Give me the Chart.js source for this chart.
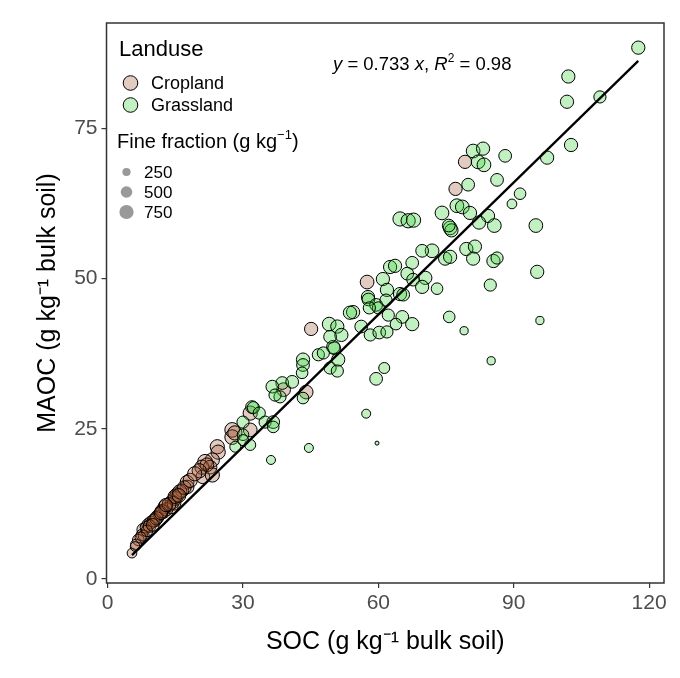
<!DOCTYPE html>
<html>
<head>
<meta charset="utf-8">
<script src="https://cdn.jsdelivr.net/npm/chart.js@4.4.1/dist/chart.umd.min.js"></script>
<style>
  html, body { margin: 0; padding: 0; background: #fff; }
  #wrap { width: 680px; height: 678px; }
</style>
</head>
<body>
<div id="wrap"><canvas id="socChart"></canvas></div>
<script>
// --- data ---
const grassSOC = [
  117.6, 102.1, 101.8, 109.1, 102.7, 97.4, 88.1, 81.0, 83.2, 82.1,
  83.4, 86.3, 79.9, 91.4, 89.6, 77.4, 78.6, 74.1, 80.3, 84.3,
  94.9, 64.8, 66.6, 67.8, 75.9, 76.2, 75.6, 82.3, 85.7, 95.2,
  79.5, 81.4, 81.0, 85.5, 86.3, 84.8, 74.8, 75.9, 71.9, 69.7,
  67.5, 62.6, 63.7, 66.4, 70.4, 67.7, 69.7, 73.0, 61.0, 61.9,
  64.8, 65.5, 57.7, 57.8, 59.5, 60.0, 58.0, 61.7, 54.4, 53.7,
  62.2, 65.3, 67.5, 63.9, 75.7, 79.0, 85.0, 56.2, 58.2, 60.2,
  61.9, 49.1, 50.9, 51.8, 50.0, 50.2, 46.7, 47.8, 51.1, 49.3,
  50.9, 43.3, 43.3, 43.1, 61.3, 59.5, 57.3, 43.3, 44.6, 36.2,
  59.7, 95.8, 38.7, 40.9, 36.5, 38.2, 37.1, 32.0, 32.3, 33.6,
  34.9, 36.7, 36.7, 30.0, 30.0, 30.0, 31.6, 28.3, 49.3
];
const grassMAOC = [
  88.4, 83.6, 79.4, 80.2, 72.2, 70.1, 70.4, 71.2, 71.6, 69.4,
  68.9, 66.4, 65.6, 64.1, 62.4, 62.1, 61.9, 60.9, 60.9, 60.4,
  58.8, 59.9, 59.6, 59.7, 58.4, 58.0, 58.8, 59.3, 58.8, 51.1,
  54.9, 55.3, 53.3, 52.9, 53.4, 48.9, 53.3, 53.6, 54.6, 54.6,
  52.6, 51.9, 52.1, 50.8, 50.1, 49.8, 48.6, 48.3, 49.9, 48.1,
  47.4, 47.3, 46.9, 46.5, 45.6, 45.1, 45.1, 46.4, 44.4, 44.3,
  43.9, 43.6, 42.4, 42.4, 43.6, 41.3, 36.3, 42.0, 40.6, 41.0,
  41.1, 42.4, 42.0, 40.6, 38.6, 38.4, 37.3, 37.6, 36.5, 35.1,
  34.6, 36.5, 35.6, 34.3, 35.1, 33.3, 27.5, 30.1, 21.8, 19.8,
  22.6, 43.0, 32.6, 32.8, 32.0, 30.3, 30.6, 28.6, 28.5, 27.6,
  26.1, 26.1, 25.3, 26.1, 24.0, 23.1, 22.3, 22.0, 40.3
];
const grassFine = [
  650, 650, 650, 550, 650, 650, 600, 700, 650, 700,
  700, 600, 600, 500, 350, 700, 700, 700, 650, 650,
  700, 750, 750, 750, 700, 650, 600, 650, 700, 650,
  650, 650, 650, 650, 550, 550, 650, 650, 700, 600,
  600, 650, 650, 600, 650, 600, 650, 500, 650, 650,
  650, 600, 650, 600, 600, 550, 550, 550, 650, 650,
  550, 600, 650, 500, 500, 250, 250, 600, 550, 600,
  550, 700, 650, 650, 650, 600, 550, 550, 650, 550,
  550, 650, 600, 500, 450, 600, 300, 500, 300, 300,
  60, 250, 600, 600, 600, 550, 550, 600, 550, 550,
  550, 600, 500, 550, 500, 450, 450, 450, 600
];

const cropSOC = [
  79.2, 77.1, 57.5, 45.1, 44.0, 39.0, 31.6, 27.6, 27.6, 31.6,
  24.3, 24.5, 23.2, 21.6, 20.9, 22.7, 22.0, 21.1, 23.2, 17.6,
  17.6, 15.4, 14.3, 14.1, 12.7, 12.3, 11.0, 10.5, 9.0, 7.9,
  7.6, 6.8, 6.3, 5.4, 13.0, 11.6, 9.6, 8.5, 15.0, 16.5,
  20.3, 8.0, 6.1, 10.2, 14.7, 12.0, 28.2, 9.3, 10.8, 11.8,
  13.6, 14.9, 16.0, 17.0, 18.3, 19.3, 8.7, 7.3, 12.9, 15.8,
  10.0
];
const cropMAOC = [
  69.4, 64.9, 49.4, 41.6, 31.1, 31.5, 27.6, 24.8, 23.6, 24.8,
  22.0, 21.1, 19.8, 19.5, 18.6, 18.6, 19.0, 17.0, 17.3, 16.1,
  15.3, 14.0, 12.8, 12.0, 12.0, 11.2, 10.3, 9.8, 9.0, 8.2,
  7.3, 6.5, 5.7, 4.3, 11.6, 10.8, 9.4, 8.6, 13.4, 14.7,
  18.0, 7.2, 5.4, 9.7, 12.6, 11.3, 24.3, 8.8, 10.1, 11.0,
  12.4, 13.7, 14.5, 15.2, 16.4, 17.5, 8.0, 6.9, 12.3, 13.9,
  9.0
];
const cropFine = [
  650, 650, 700, 650, 700, 700, 750, 800, 800, 700,
  750, 750, 750, 800, 750, 700, 700, 700, 750, 700,
  700, 750, 750, 700, 700, 700, 650, 650, 600, 600,
  500, 500, 450, 350, 650, 600, 600, 500, 700, 650,
  750, 450, 350, 600, 700, 650, 750, 600, 650, 650,
  700, 700, 750, 700, 750, 750, 500, 450, 650, 700,
  600
];

const fitSlope = 0.733;
const fitR2 = 0.98;
const xTicks = [0, 30, 60, 90, 120];
const yTicks = [0, 25, 50, 75];
const sizeBreaks = [250, 500, 750];
const landuseNames = ['Cropland', 'Grassland'];

// --- styling ---
const FONT = '"Liberation Sans", Arial, sans-serif';
const cropFill = 'rgba(160, 82, 45, 0.3)';
const grassFill = 'rgba(50, 205, 50, 0.3)';
const sizeToRadius = ff => 0.26 * Math.sqrt(ff);

function toBubbles(xs, ys, fs) {
  return xs.map((x, i) => ({ x: x, y: ys[i], r: sizeToRadius(fs[i]) }));
}

const allSOC = cropSOC.concat(grassSOC);
const fitFrom = Math.min.apply(null, allSOC);
const fitTo = Math.max.apply(null, allSOC);

// draws text pieces one after another (italics, superscripts)
function drawRuns(ctx, runs, x, y) {
  runs.forEach(r => {
    ctx.font = (r.italic ? 'italic ' : '') + r.size + 'px ' + FONT;
    ctx.fillText(r.text, x, y + (r.dy || 0));
    x += ctx.measureText(r.text).width;
  });
}

const plotDecor = {
  id: 'plotDecor',
  afterDraw(chart) {
    const { ctx, chartArea: a } = chart;
    ctx.save();
    // panel border
    ctx.strokeStyle = '#333';
    ctx.lineWidth = 1.5;
    ctx.strokeRect(a.left, a.top, a.right - a.left, a.bottom - a.top);

    ctx.fillStyle = '#000';
    ctx.textAlign = 'left';

    // equation
    ctx.textBaseline = 'alphabetic';
    drawRuns(ctx, [
      { text: 'y', size: 18.5, italic: true },
      { text: ' = ' + fitSlope + ' ', size: 18.5 },
      { text: 'x', size: 18.5, italic: true },
      { text: ', ', size: 18.5 },
      { text: 'R', size: 18.5, italic: true },
      { text: '2', size: 12, dy: -8 },
      { text: ' = ' + fitR2.toFixed(2), size: 18.5 }
    ], 333, 70);

    // landuse legend
    ctx.textBaseline = 'middle';
    ctx.font = '22px ' + FONT;
    ctx.fillText('Landuse', 119, 50);
    [cropFill, grassFill].forEach((fill, i) => {
      const cy = 83 + i * 22;
      ctx.beginPath();
      ctx.arc(130.5, cy, 7.3, 0, Math.PI * 2);
      ctx.fillStyle = fill;
      ctx.fill();
      ctx.lineWidth = 1;
      ctx.strokeStyle = '#000';
      ctx.stroke();
      ctx.fillStyle = '#000';
      ctx.font = '18px ' + FONT;
      ctx.fillText(landuseNames[i], 151, cy + 1);
    });

    // size legend
    drawRuns(ctx, [
      { text: 'Fine fraction (g kg', size: 20 },
      { text: '\u22121', size: 13, dy: -7 },
      { text: ')', size: 20 }
    ], 117, 142);
    sizeBreaks.forEach((b, i) => {
      const cy = 172 + i * 20;
      ctx.beginPath();
      ctx.arc(126.5, cy, sizeToRadius(b), 0, Math.PI * 2);
      ctx.fillStyle = 'rgba(0, 0, 0, 0.4)';
      ctx.fill();
      ctx.fillStyle = '#000';
      ctx.font = '17px ' + FONT;
      ctx.fillText(String(b), 144, cy + 1);
    });
    ctx.restore();
  }
};

const tickFont = { family: FONT, size: 21 };
const titleFont = { family: FONT, size: 25 };

new Chart(document.getElementById('socChart'), {
  type: 'bubble',
  data: {
    datasets: [
      {
        type: 'line',
        label: 'fit',
        data: [{ x: fitFrom, y: fitSlope * fitFrom }, { x: fitTo, y: fitSlope * fitTo }],
        borderColor: '#000',
        borderWidth: 2.3,
        pointRadius: 0,
        fill: false,
        order: 0
      },
      {
        label: landuseNames[1],
        data: toBubbles(grassSOC, grassMAOC, grassFine),
        backgroundColor: grassFill,
        borderColor: '#000',
        borderWidth: 1,
        order: 1
      },
      {
        label: landuseNames[0],
        data: toBubbles(cropSOC, cropMAOC, cropFine),
        backgroundColor: cropFill,
        borderColor: '#000',
        borderWidth: 1,
        order: 2
      }
    ]
  },
  options: {
    responsive: true,
    maintainAspectRatio: false,
    animation: false,
    layout: { padding: { top: 23, right: 16, left: 0, bottom: 0 } },
    plugins: {
      legend: { display: false },
      tooltip: { enabled: false }
    },
    scales: {
      x: {
        type: 'linear',
        min: -0.25,
        max: 123.3,
        afterBuildTicks: axis => { axis.ticks = xTicks.map(v => ({ value: v })); },
        afterFit: axis => { axis.height = 95; },
        ticks: { color: '#4D4D4D', font: tickFont, padding: 3, maxRotation: 0 },
        grid: { drawOnChartArea: false, drawTicks: true, tickLength: 5, color: '#333', lineWidth: 1.2 },
        border: { display: false },
        title: {
          display: true,
          text: 'SOC (g kg\u207B\u00B9 bulk soil)',
          color: '#000',
          font: titleFont,
          padding: { top: 21, bottom: 21 }
        }
      },
      y: {
        type: 'linear',
        min: -0.67,
        max: 92.5,
        afterBuildTicks: axis => { axis.ticks = yTicks.map(v => ({ value: v })); },
        afterFit: axis => { axis.width = 106.5; },
        ticks: { color: '#4D4D4D', font: tickFont, padding: 4 },
        grid: { drawOnChartArea: false, drawTicks: true, tickLength: 5, color: '#333', lineWidth: 1.2 },
        border: { display: false },
        title: {
          display: true,
          text: 'MAOC (g kg\u207B\u00B9 bulk soil)',
          color: '#000',
          font: titleFont,
          padding: { top: 33, bottom: 33 }
        }
      }
    }
  },
  plugins: [plotDecor]
});
</script>
</body>
</html>
